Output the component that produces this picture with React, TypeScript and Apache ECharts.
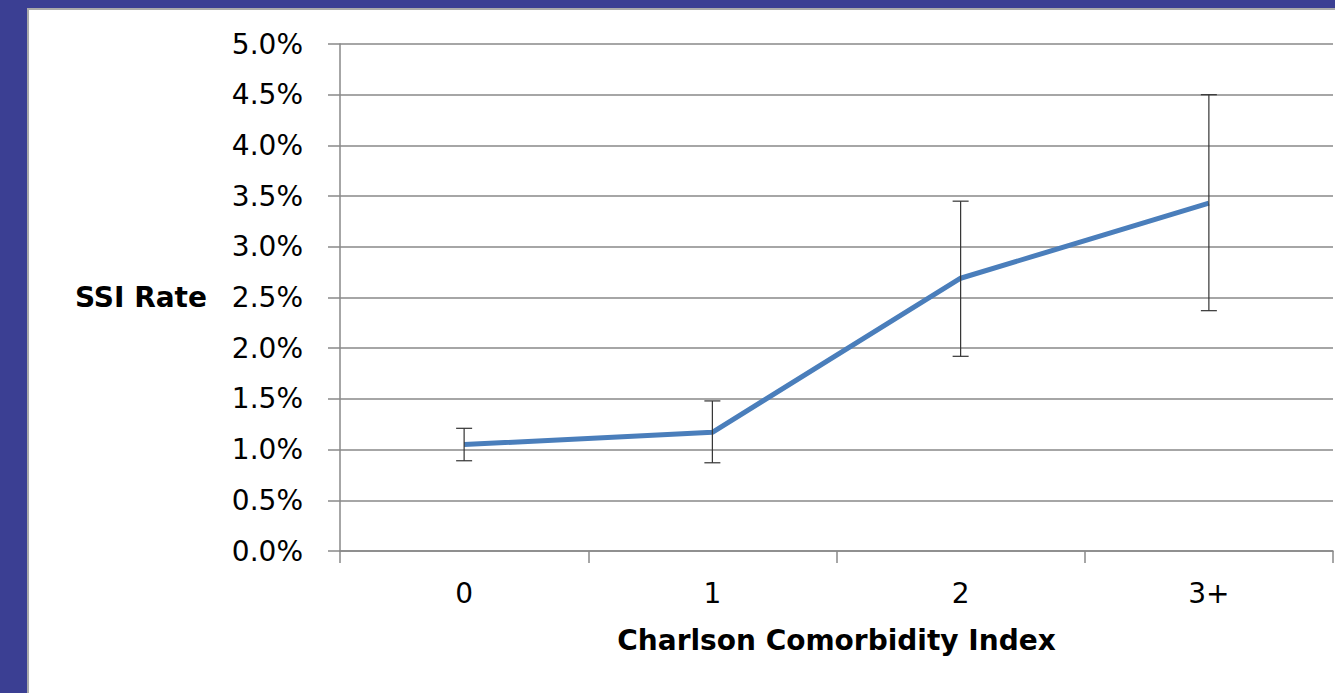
import React, { useEffect, useRef } from "react";
import * as echarts from "echarts";

const categories = ["0", "1", "2", "3+"];
const ssiRate = [1.05, 1.17, 2.69, 3.43];
const errLow = [0.89, 0.87, 1.92, 2.37];
const errHigh = [1.21, 1.48, 3.45, 4.5];
const yTicks = { min: 0, max: 5, interval: 0.5 };

export default function App() {
  const ref = useRef<HTMLDivElement>(null);
  useEffect(() => {
    document.body.style.margin = "0";
    const chart = echarts.init(ref.current!, null, { renderer: "svg" });
    const errData = categories.map((_, i) => [i, errLow[i], errHigh[i]]);
    chart.setOption({
      animation: false,
      backgroundColor: "transparent",
      grid: { left: 340, right: 2, top: 44, bottom: 142 },
      xAxis: {
        type: "category",
        data: categories,
        boundaryGap: true,
        name: "Charlson Comorbidity Index",
        nameLocation: "middle",
        nameGap: 75,
        nameTextStyle: { fontFamily: "DejaVu Sans", fontWeight: "bold", fontSize: 28, color: "#000" },
        axisLine: { lineStyle: { color: "#888", width: 1.5 } },
        axisTick: { show: true, length: 12, lineStyle: { color: "#888", width: 1.5 } },
        axisLabel: { margin: 28, fontFamily: "DejaVu Sans", fontSize: 28, color: "#000" },
        splitLine: { show: false },
      },
      yAxis: {
        type: "value",
        min: yTicks.min,
        max: yTicks.max,
        interval: yTicks.interval,
        name: "SSI Rate",
        nameLocation: "middle",
        nameRotate: 0,
        nameGap: 133,
        nameTextStyle: { fontFamily: "DejaVu Sans", fontWeight: "bold", fontSize: 28, color: "#000" },
        axisLine: { show: true, lineStyle: { color: "#888", width: 1.5 } },
        axisTick: { show: true, length: 12, lineStyle: { color: "#888", width: 1.5 } },
        axisLabel: {
          margin: 37,
          fontFamily: "DejaVu Sans",
          fontSize: 28,
          color: "#000",
          formatter: (v: number) => v.toFixed(1) + "%",
        },
        splitLine: { show: true, lineStyle: { color: "#888", width: 1.5 } },
      },
      series: [
        {
          type: "line",
          data: ssiRate,
          symbol: "none",
          lineStyle: { color: "#4A7EBB", width: 5 },
          z: 2,
        },
        {
          type: "custom",
          data: errData,
          z: 3,
          renderItem: (params: any, api: any) => {
            const x = api.value(0);
            const lo = api.coord([x, api.value(1)]);
            const hi = api.coord([x, api.value(2)]);
            const cap = 8;
            const style = { stroke: "#333", lineWidth: 1.2 };
            return {
              type: "group",
              children: [
                { type: "line", shape: { x1: hi[0], y1: hi[1], x2: lo[0], y2: lo[1] }, style },
                { type: "line", shape: { x1: hi[0] - cap, y1: hi[1], x2: hi[0] + cap, y2: hi[1] }, style },
                { type: "line", shape: { x1: lo[0] - cap, y1: lo[1], x2: lo[0] + cap, y2: lo[1] }, style },
              ],
            };
          },
        },
      ],
    });
    return () => chart.dispose();
  }, []);
  return (
    <div style={{ position: "relative", width: 1335, height: 693, background: "#3B3F93", overflow: "hidden" }}>
      <div
        style={{
          position: "absolute",
          left: 27,
          top: 8,
          right: 0,
          bottom: 0,
          background: "#fff",
          borderLeft: "2px solid #aaa",
          borderTop: "2px solid #aaa",
        }}
      />
      <div ref={ref} style={{ position: "absolute", left: 0, top: 0, width: 1335, height: 693 }} />
    </div>
  );
}
